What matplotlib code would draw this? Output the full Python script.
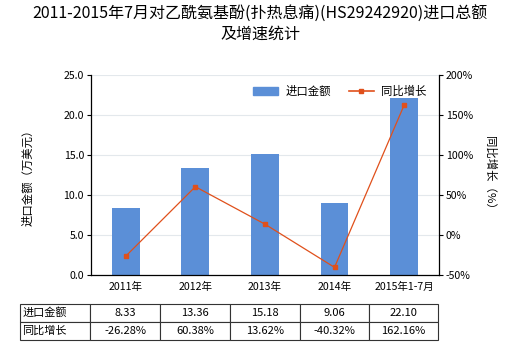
import matplotlib
matplotlib.use("Agg")
import matplotlib.pyplot as plt
from matplotlib.lines import Line2D
from matplotlib.patches import Patch

plt.rcParams['font.family'] = ['Noto Sans CJK SC', 'DejaVu Sans']

categories = ["2011年", "2012年", "2013年", "2014年", "2015年1-7月"]
import_values = [8.33, 13.36, 15.18, 9.06, 22.10]
growth = [-26.28, 60.38, 13.62, -40.32, 162.16]
value_labels = ["8.33", "13.36", "15.18", "9.06", "22.10"]
growth_labels = ["-26.28%", "60.38%", "13.62%", "-40.32%", "162.16%"]
row_labels = ["进口金额", "同比增长"]
left_ticks = [0, 5, 10, 15, 20, 25]
right_ticks = [-50, 0, 50, 100, 150, 200]

bar_color = "#5B8FD7"
line_color = "#E0501B"
fs = 7.6

fig = plt.figure(figsize=(5.2, 3.5), dpi=100)
ax = fig.add_axes([0.175, 0.214, 0.669, 0.572])
x = list(range(len(categories)))
ax.bar(x, import_values, width=0.4, color=bar_color, zorder=2, label="进口金额")
ax.set_xlim(-0.5, len(categories) - 0.5)
ax.set_ylim(0, 25)
ax.set_yticks(left_ticks)
ax.set_yticklabels([f"{t:.1f}" for t in left_ticks], fontsize=fs)
ax.set_xticks(x)
ax.set_xticklabels(categories, fontsize=fs)
ax.tick_params(axis='x', length=0, pad=5)
ax.tick_params(axis='y', length=3, width=0.8, pad=2)
ax.grid(axis='y', color="#E3E8EC", linewidth=0.8, zorder=0)
for s in ["top", "right"]:
    ax.spines[s].set_visible(False)
ax.spines["left"].set_linewidth(0.9)
ax.spines["bottom"].set_linewidth(0.9)
ax.set_ylabel("进口金额（万美元）", fontsize=8.2, labelpad=22)

ax2 = ax.twinx()
ax2.plot(x, growth, color=line_color, linewidth=0.9, marker='s', markersize=3.5, zorder=3)
ax2.set_ylim(-50, 200)
ax2.set_yticks(right_ticks)
ax2.set_yticklabels([f"{t}%" for t in right_ticks], fontsize=fs)
ax2.tick_params(axis='y', length=3, width=0.8, pad=2)
for s in ["top", "left", "bottom"]:
    ax2.spines[s].set_visible(False)
ax2.spines["right"].set_linewidth(0.9)
ax2.set_ylabel("同比增长（%）", fontsize=8.2, rotation=-90, labelpad=16)

handles = [Patch(color=bar_color), Line2D([0], [0], color=line_color, marker='s', markersize=3, linewidth=1.2)]
ax.legend(handles, ["进口金额", "同比增长"], loc="upper center", bbox_to_anchor=(0.715, 0.985), ncol=2,
          frameon=False, fontsize=8.2, handlelength=2.2, handletextpad=0.6, columnspacing=1.6,
          borderaxespad=0.3)

fig.suptitle("2011-2015年7月对乙酰氨基酚(扑热息痛)(HS29242920)进口总额\n及增速统计",
             fontsize=11.5, y=0.985, linespacing=1.25)

tax = fig.add_axes([0.0385, 0.029, 0.804, 0.103])
tax.axis('off')
cells = [[row_labels[0]] + value_labels, [row_labels[1]] + growth_labels]
tbl = tax.table(cellText=cells, bbox=[0, 0, 1, 1], cellLoc='center')
tbl.auto_set_font_size(False)
tbl.set_fontsize(8)
widths = [70, 70, 70, 70, 69, 69]
tot = sum(widths)
for (r, c), cell in tbl.get_celld().items():
    cell.set_linewidth(0.8)
    cell.set_edgecolor("#333333")
    cell.set_width(widths[c] / tot)
    if c == 0:
        cell.get_text().set_horizontalalignment('left')
        cell.PAD = 0.03

fig.savefig("out.png", dpi=100)
